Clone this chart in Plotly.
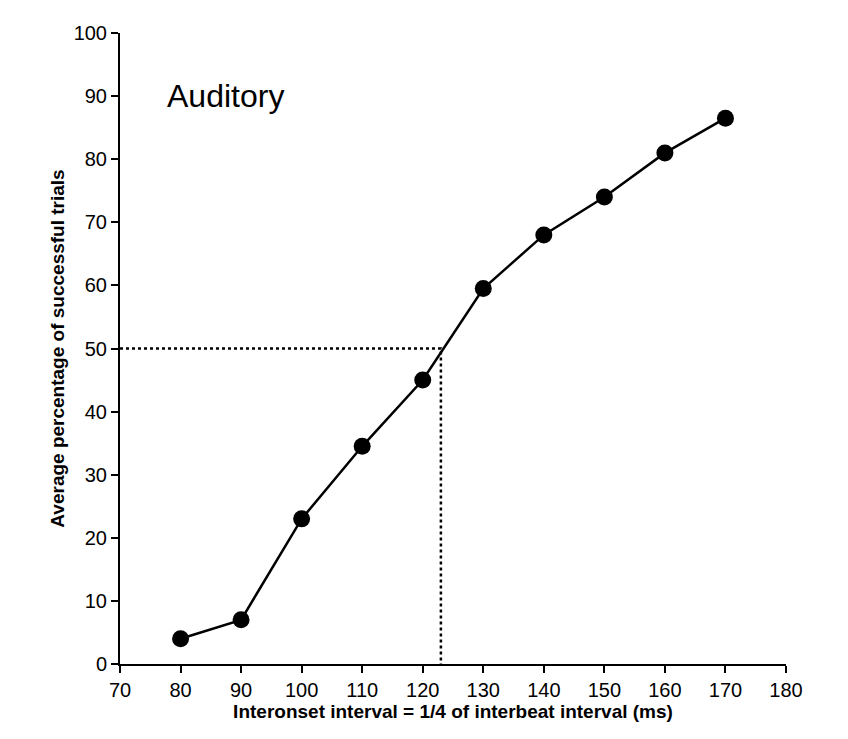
import plotly.graph_objects as go

interval = [80, 90, 100, 110, 120, 130, 140, 150, 160, 170]
success = [4, 7, 23, 34.5, 45, 59.5, 68, 74, 81, 86.5]
threshold_x = [70, 123, 123]
threshold_y = [50, 50, 0]

fig = go.Figure()
fig.add_trace(go.Scatter(x=threshold_x, y=threshold_y, mode="lines",
                         line=dict(color="black", width=2.5, dash="dot")))
fig.add_trace(go.Scatter(x=interval, y=success, mode="lines+markers",
                         line=dict(color="black", width=2.5),
                         marker=dict(color="black", size=17)))

fig.add_annotation(x=77.5, y=90, text="Auditory", showarrow=False, xanchor="left",
                   font=dict(size=32, color="black"))

axis = dict(showline=True, linecolor="black", linewidth=2, ticks="outside",
            tickwidth=2, ticklen=7, tickcolor="black", showgrid=False, zeroline=False,
            tickfont=dict(size=20, color="black"))
fig.update_xaxes(range=[70, 180], dtick=10, **axis,
                 title=dict(text="<b>Interonset interval = 1/4 of interbeat interval (ms)</b>",
                            font=dict(size=19, color="black"), standoff=2))
fig.update_yaxes(range=[0, 100], dtick=10, **axis,
                 title=dict(text="<b>Average percentage of successful trials</b>",
                            font=dict(size=19, color="black"), standoff=4))
fig.update_layout(width=848, height=739, showlegend=False,
                  plot_bgcolor="white", paper_bgcolor="white",
                  font=dict(family="Liberation Sans, Arial"),
                  margin=dict(l=112, r=70, t=25, b=83))
fig.write_html("out.html")
